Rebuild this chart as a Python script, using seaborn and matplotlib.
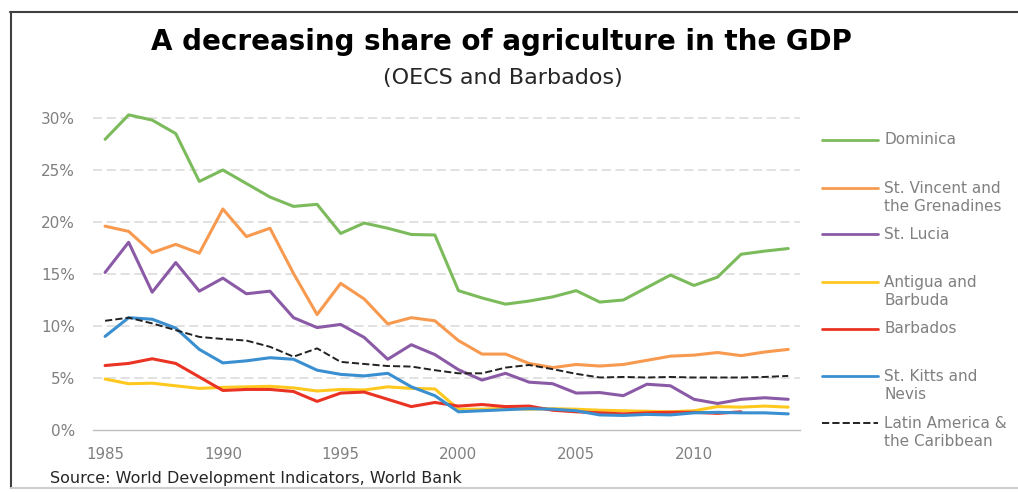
import numpy as np
import pandas as pd
import seaborn as sns
import matplotlib.pyplot as plt
from matplotlib.lines import Line2D
from matplotlib.ticker import FixedLocator, PercentFormatter

# agriculture, value added (% of GDP)
years = list(range(1985, 2015))
dominica = [27.95, 30.3, 29.8, 28.5, 23.9, 25.0, 23.7, 22.4, 21.5, 21.7,
            18.9, 19.9, 19.4, 18.8, 18.75, 13.4, 12.7, 12.1, 12.4, 12.8,
            13.4, 12.3, 12.5, 13.7, 14.9, 13.9, 14.7, 16.9, 17.2, 17.45]
st_vincent = [19.6, 19.1, 17.05, 17.85, 17.0, 21.25, 18.6, 19.4, 15.05, 11.1,
              14.1, 12.6, 10.2, 10.8, 10.5, 8.6, 7.3, 7.3, 6.4, 6.0,
              6.3, 6.15, 6.3, 6.7, 7.1, 7.2, 7.45, 7.15, 7.5, 7.75]
st_lucia = [15.15, 18.05, 13.25, 16.1, 13.35, 14.6, 13.1, 13.35, 10.8, 9.85,
            10.15, 8.9, 6.8, 8.2, 7.25, 5.8, 4.8, 5.45, 4.6, 4.45,
            3.55, 3.6, 3.3, 4.4, 4.25, 2.95, 2.55, 2.95, 3.1, 2.95]
antigua = [4.9, 4.45, 4.5, 4.25, 4.0, 4.1, 4.15, 4.2, 4.05, 3.75,
           3.9, 3.85, 4.15, 4.0, 3.95, 2.0, 2.0, 2.1, 2.0, 2.05,
           2.0, 1.9, 1.85, 1.8, 1.75, 1.85, 2.25, 2.2, 2.3, 2.2]
barbados = [6.2, 6.4, 6.85, 6.4, 5.1, 3.8, 3.9, 3.9, 3.7, 2.75,
            3.55, 3.65, 2.95, 2.25, 2.65, 2.3, 2.45, 2.25, 2.3, 1.9,
            1.75, 1.65, 1.55, 1.65, 1.7, 1.7, 1.6, 1.75, np.nan, np.nan]
st_kitts = [9.0, 10.8, 10.65, 9.8, 7.75, 6.45, 6.65, 6.95, 6.8, 5.75,
            5.35, 5.2, 5.45, 4.15, 3.3, 1.75, 1.85, 1.95, 2.05, 2.0,
            1.85, 1.45, 1.4, 1.5, 1.45, 1.65, 1.7, 1.65, 1.65, 1.55]
latam = [10.5, 10.8, 10.25, 9.6, 8.95, 8.75, 8.6, 8.0, 7.05, 7.85,
         6.55, 6.35, 6.15, 6.1, 5.75, 5.45, 5.45, 6.0, 6.25, 5.85,
         5.4, 5.05, 5.1, 5.05, 5.1, 5.05, 5.05, 5.05, 5.1, 5.2]

names = ["Dominica", "St. Vincent and\nthe Grenadines", "St. Lucia",
         "Antigua and\nBarbuda", "Barbados", "St. Kitts and\nNevis",
         "Latin America &\nthe Caribbean"]
series = [dominica, st_vincent, st_lucia, antigua, barbados, st_kitts, latam]
colors = ["#7cbb5b", "#f79a4f", "#8b5aa6", "#ffc81e", "#ea3323", "#3a8fd0", "#222222"]
styles = ["-", "-", "-", "-", "-", "-", "--"]

sns.set_style("white")
plt.rcParams['font.family'] = ['DejaVu Sans']

W, H = 1018, 492
fig = plt.figure(figsize=(W / 100, H / 100), dpi=100)
ymax = 31
ax_top = 430 - ymax * 10.4
ax = fig.add_axes([93.3 / W, 1 - 430 / H, (800 - 93.3) / W, (430 - ax_top) / H])

for i, (vals, c, ls) in enumerate(zip(series, colors, styles)):
    sns.lineplot(x=years, y=vals, color=c, linestyle=ls, linewidth=2.2 if ls == "-" else 1.4,
                 ax=ax, zorder=3 + i)

ax.set_xlim(1984.5, 2014.5)
ax.set_ylim(0, ymax)
ax.set_yticks([0, 5, 10, 15, 20, 25, 30])
ax.yaxis.set_major_formatter(PercentFormatter(100, decimals=0))
ax.set_xticks([1985, 1990, 1995, 2000, 2005, 2010])
ax.xaxis.set_minor_locator(FixedLocator(np.arange(1984.5, 2015, 5)))
ax.tick_params(axis='x', which='major', length=0, pad=12, labelsize=10.8, labelcolor="#808080")
ax.tick_params(axis='x', which='minor', length=5, width=1, color="#bfbfbf", direction='out')
ax.tick_params(axis='y', length=0, pad=13, labelsize=11, labelcolor="#808080")
ax.set_xlabel("")
ax.set_ylabel("")
for s in ["top", "right", "left"]:
    ax.spines[s].set_visible(False)
ax.spines["bottom"].set_color("#bfbfbf")
ax.spines["bottom"].set_linewidth(1)
ax.yaxis.grid(True, color="#d9d9d9", linestyle=(0, (6, 3)), linewidth=1.1)
ax.set_axisbelow(True)
for gl in ax.yaxis.get_gridlines()[:1]:
    gl.set_visible(False)

# legend drawn on the right
leg_y = [140, 187.7, 234.3, 282.3, 328.7, 376, 423.3]
for name, c, ls, y in zip(names, colors, styles, leg_y):
    fig.add_artist(Line2D([821.7 / W, 878.3 / W], [1 - y / H, 1 - y / H], color=c,
                          linestyle=ls, linewidth=2 if ls == "-" else 1.4))
    n = name.count("\n")
    fig.text(884 / W, 1 - (y + 9.5 * n) / H, name, ha='left', va='center',
             fontsize=11, color="#808080", linespacing=1.25)

fig.text(501.5 / W, 1 - 50 / H, "A decreasing share of agriculture in the GDP",
         ha='center', va='baseline', fontsize=20, fontweight='bold', color="black")
fig.text(502.5 / W, 1 - 84 / H, "(OECS and Barbados)", ha='center', va='baseline',
         fontsize=16, color="#262626")
fig.text(50 / W, 1 - 483 / H, "Source: World Development Indicators, World Bank",
         ha='left', va='baseline', fontsize=11.5, color="#262626")

# frame
fig.add_artist(Line2D([10 / W, 1], [1 - 12 / H, 1 - 12 / H], color="#404040", linewidth=1.5))
fig.add_artist(Line2D([11 / W, 11 / W], [1 - 12 / H, 1 - 488 / H], color="#404040", linewidth=1.5))
fig.add_artist(Line2D([11 / W, 1], [1 - 488 / H, 1 - 488 / H], color="#d0d0d0", linewidth=1.5))

plt.savefig("out.png", dpi=100)
